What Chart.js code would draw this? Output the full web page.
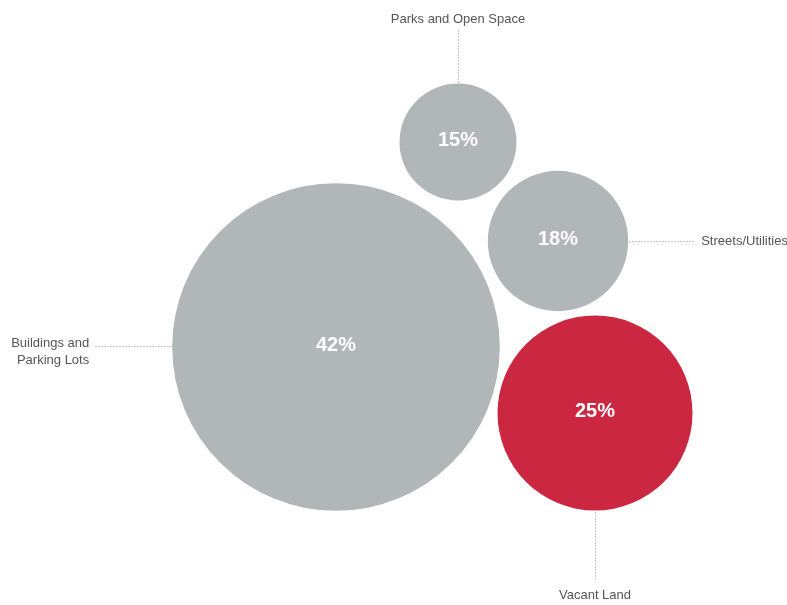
<!DOCTYPE html>
<html>
<head>
<meta charset="utf-8">
<style>
  html, body { margin: 0; padding: 0; background: #fff; }
  #wrap { width: 787px; height: 605px; }
</style>
<script src="https://cdn.jsdelivr.net/npm/chart.js@4/dist/chart.umd.min.js"></script>
</head>
<body>
<div id="wrap"><canvas id="landUse" width="787" height="605"></canvas></div>
<script>
// land use shares (percent)
var categories = ["Buildings and\nParking Lots", "Parks and Open Space", "Streets/Utilities", "Vacant Land"];
var shares = [42, 15, 18, 25];
// bubble centres on the layout grid
var posX = [336, 458, 558, 595];
var posY = [347, 142, 241, 413];
// which side of the bubble the callout sits on
var calloutSide = ["left", "top", "right", "bottom"];

var GREY = '#b1b6b9';
var RED = '#cc2740';
var colors = [GREY, GREY, GREY, RED];
var PX_PER_PCT = 3.9;

var points = shares.map(function (v, i) {
  return { x: posX[i], y: posY[i], r: v * PX_PER_PCT };
});

// percent labels inside bubbles + dotted callouts to category names
var callouts = {
  id: 'callouts',
  afterDatasetsDraw: function (chart) {
    var ctx = chart.ctx;
    var meta = chart.getDatasetMeta(0);
    ctx.save();
    meta.data.forEach(function (el, i) {
      var cx = el.x, cy = el.y, r = shares[i] * PX_PER_PCT;

      ctx.fillStyle = '#ffffff';
      ctx.font = 'bold 20px "Liberation Sans", Arial, sans-serif';
      ctx.textAlign = 'center';
      ctx.textBaseline = 'middle';
      ctx.fillText(shares[i] + '%', cx, cy - 2);

      var x1, y1, x2, y2, tx, ty, align;
      var side = calloutSide[i];
      if (side === 'top') {
        x1 = x2 = cx; y1 = cy - r - 2; y2 = cy - r - 56; tx = cx; ty = y2 - 8; align = 'center';
      } else if (side === 'bottom') {
        x1 = x2 = cx; y1 = cy + r + 1; y2 = y1 + 69; tx = cx; ty = y2 + 15; align = 'center';
      } else if (side === 'right') {
        y1 = y2 = cy; x1 = cx + r + 1; x2 = x1 + 66; tx = x2 + 6; ty = cy; align = 'left';
      } else {
        y1 = y2 = cy - 1; x1 = cx - r - 1; x2 = x1 - 76; tx = x2 - 6; ty = cy - 4; align = 'right';
      }

      ctx.strokeStyle = '#8f8f8f';
      ctx.lineWidth = 1;
      ctx.setLineDash([1, 2]);
      ctx.beginPath();
      ctx.moveTo(Math.round(x1) + 0.5, Math.round(y1) + 0.5);
      ctx.lineTo(Math.round(x2) + 0.5, Math.round(y2) + 0.5);
      ctx.stroke();
      ctx.setLineDash([]);

      ctx.fillStyle = '#555555';
      ctx.font = '13px "Liberation Sans", Arial, sans-serif';
      ctx.textAlign = align;
      ctx.textBaseline = 'middle';
      categories[i].split('\n').forEach(function (line, k) {
        ctx.fillText(line, tx, ty + k * 17);
      });
    });
    ctx.restore();
  }
};

new Chart(document.getElementById('landUse').getContext('2d'), {
  type: 'bubble',
  data: {
    labels: categories,
    datasets: [{
      data: points,
      backgroundColor: colors,
      borderWidth: 0,
      hoverRadius: 0,
      hoverBorderWidth: 0,
      clip: false
    }]
  },
  options: {
    responsive: false,
    animation: false,
    events: [],
    layout: { padding: 0, autoPadding: false },
    plugins: {
      legend: { display: false },
      tooltip: { enabled: false }
    },
    scales: {
      x: { type: 'linear', min: 0, max: 787, display: false },
      y: { type: 'linear', min: 0, max: 605, reverse: true, display: false }
    }
  },
  plugins: [callouts]
});
</script>
</body>
</html>
